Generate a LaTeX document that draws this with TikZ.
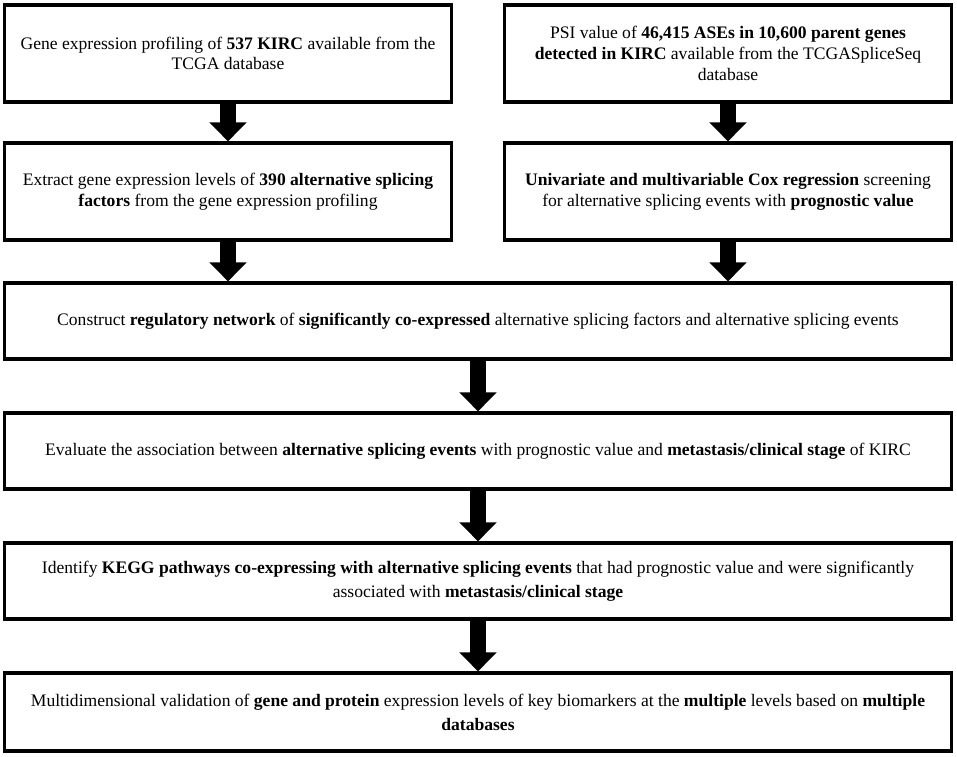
\documentclass[tikz,border=0pt]{standalone}
\usepackage{fontspec}
\setmainfont{Liberation Serif}
\usetikzlibrary{arrows.meta}

\begin{document}
\begin{tikzpicture}[x=0.02cm,y=-0.02cm,
    box/.style={draw=black,line width=1.8pt,align=center,inner sep=0pt,
      font=\fontsize{10}{11.8}\selectfont},
    tall/.style={font=\fontsize{10}{13.6}\selectfont},
    flow/.style={line width=0.32cm,-{Triangle[width=0.72cm,length=0.38cm]}}]
  \useasboundingbox (0,0) rectangle (957,757);

  \node[box,minimum width=8.94cm,minimum height=1.94cm] (gene) at (228,53.5)
    {Gene expression profiling of \textbf{537 KIRC} available from the\\TCGA database};
  \node[box,minimum width=8.94cm,minimum height=1.94cm] (psi) at (728,53.5)
    {PSI value of \textbf{46,415 ASEs in 10,600 parent genes}\\
     \textbf{detected in KIRC} available from the TCGASpliceSeq\\database};
  \node[box,minimum width=8.94cm,minimum height=1.94cm] (extract) at (228,191.5)
    {Extract gene expression levels of \textbf{390 alternative splicing}\\
     \textbf{factors} from the gene expression profiling};
  \node[box,minimum width=8.94cm,minimum height=1.94cm] (cox) at (728,191.5)
    {\textbf{Univariate and multivariable Cox regression} screening\\
     for alternative splicing events with \textbf{prognostic value}};
  \node[box,minimum width=18.94cm,minimum height=1.52cm] (network) at (478,321)
    {Construct \textbf{regulatory network} of \textbf{significantly co-expressed}
     alternative splicing factors and alternative splicing events};
  \node[box,minimum width=18.94cm,minimum height=1.52cm] (assoc) at (478,451)
    {Evaluate the association between \textbf{alternative splicing events} with
     prognostic value and \textbf{metastasis/clinical stage} of KIRC};
  \node[box,tall,minimum width=18.94cm,minimum height=1.52cm] (kegg) at (478,581)
    {Identify \textbf{KEGG pathways co-expressing with alternative splicing events}
     that had prognostic value and were significantly\\
     associated with \textbf{metastasis/clinical stage}};
  \node[box,tall,minimum width=18.94cm,minimum height=1.56cm] (valid) at (478,712)
    {Multidimensional validation of \textbf{gene and protein} expression levels of
     key biomarkers at the \textbf{multiple} levels based on \textbf{multiple}\\
     \textbf{databases}};

  % arrows
  \draw[flow] (gene) -- (extract);
  \draw[flow] (psi) -- (cox);
  \draw[flow] (extract.south) -- (extract.south |- network.north);
  \draw[flow] (cox.south) -- (cox.south |- network.north);
  \draw[flow] (network) -- (assoc);
  \draw[flow] (assoc) -- (kegg);
  \draw[flow] (kegg) -- (valid);
\end{tikzpicture}
\end{document}
